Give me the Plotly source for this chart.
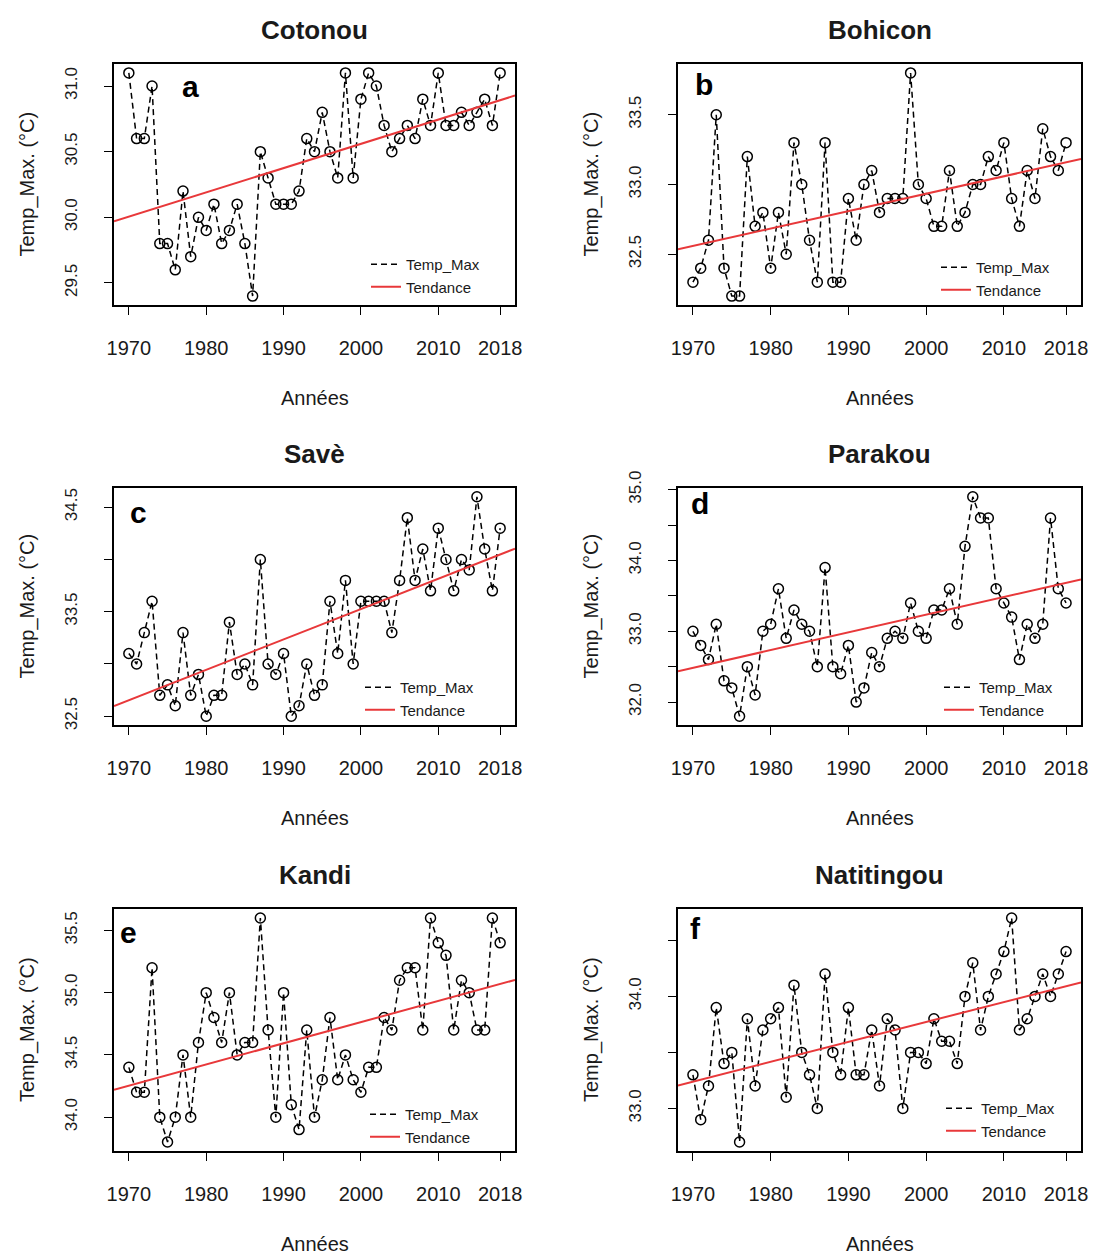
import numpy as np
import plotly.graph_objects as go

# ---------------- data ----------------
years = list(range(1970, 2019))
stations = ["Cotonou", "Bohicon", "Savè", "Parakou", "Kandi", "Natitingou"]
letters = ["a", "b", "c", "d", "e", "f"]

cotonou = [31.1, 30.6, 30.6, 31.0, 29.8, 29.8, 29.6, 30.2, 29.7, 30.0,
           29.9, 30.1, 29.8, 29.9, 30.1, 29.8, 29.4, 30.5, 30.3, 30.1,
           30.1, 30.1, 30.2, 30.6, 30.5, 30.8, 30.5, 30.3, 31.1, 30.3,
           30.9, 31.1, 31.0, 30.7, 30.5, 30.6, 30.7, 30.6, 30.9, 30.7,
           31.1, 30.7, 30.7, 30.8, 30.7, 30.8, 30.9, 30.7, 31.1]
bohicon = [32.3, 32.4, 32.6, 33.5, 32.4, 32.2, 32.2, 33.2, 32.7, 32.8,
           32.4, 32.8, 32.5, 33.3, 33.0, 32.6, 32.3, 33.3, 32.3, 32.3,
           32.9, 32.6, 33.0, 33.1, 32.8, 32.9, 32.9, 32.9, 33.8, 33.0,
           32.9, 32.7, 32.7, 33.1, 32.7, 32.8, 33.0, 33.0, 33.2, 33.1,
           33.3, 32.9, 32.7, 33.1, 32.9, 33.4, 33.2, 33.1, 33.3]
save = [33.1, 33.0, 33.3, 33.6, 32.7, 32.8, 32.6, 33.3, 32.7, 32.9,
        32.5, 32.7, 32.7, 33.4, 32.9, 33.0, 32.8, 34.0, 33.0, 32.9,
        33.1, 32.5, 32.6, 33.0, 32.7, 32.8, 33.6, 33.1, 33.8, 33.0,
        33.6, 33.6, 33.6, 33.6, 33.3, 33.8, 34.4, 33.8, 34.1, 33.7,
        34.3, 34.0, 33.7, 34.0, 33.9, 34.6, 34.1, 33.7, 34.3]
parakou = [33.0, 32.8, 32.6, 33.1, 32.3, 32.2, 31.8, 32.5, 32.1, 33.0,
           33.1, 33.6, 32.9, 33.3, 33.1, 33.0, 32.5, 33.9, 32.5, 32.4,
           32.8, 32.0, 32.2, 32.7, 32.5, 32.9, 33.0, 32.9, 33.4, 33.0,
           32.9, 33.3, 33.3, 33.6, 33.1, 34.2, 34.9, 34.6, 34.6, 33.6,
           33.4, 33.2, 32.6, 33.1, 32.9, 33.1, 34.6, 33.6, 33.4]
kandi = [34.4, 34.2, 34.2, 35.2, 34.0, 33.8, 34.0, 34.5, 34.0, 34.6,
         35.0, 34.8, 34.6, 35.0, 34.5, 34.6, 34.6, 35.6, 34.7, 34.0,
         35.0, 34.1, 33.9, 34.7, 34.0, 34.3, 34.8, 34.3, 34.5, 34.3,
         34.2, 34.4, 34.4, 34.8, 34.7, 35.1, 35.2, 35.2, 34.7, 35.6,
         35.4, 35.3, 34.7, 35.1, 35.0, 34.7, 34.7, 35.6, 35.4]
natitingou = [33.3, 32.9, 33.2, 33.9, 33.4, 33.5, 32.7, 33.8, 33.2, 33.7,
              33.8, 33.9, 33.1, 34.1, 33.5, 33.3, 33.0, 34.2, 33.5, 33.3,
              33.9, 33.3, 33.3, 33.7, 33.2, 33.8, 33.7, 33.0, 33.5, 33.5,
              33.4, 33.8, 33.6, 33.6, 33.4, 34.0, 34.3, 33.7, 34.0, 34.2,
              34.4, 34.7, 33.7, 33.8, 34.0, 34.2, 34.0, 34.2, 34.4]
series = [cotonou, bohicon, save, parakou, kandi, natitingou]

x_tickvals = [1970, 1980, 1990, 2000, 2010, 2018]
x_ticktext = ["1970", "1980", "1990", "2000", "2010", "2018"]

y_tickvals = [
    [29.5, 30.0, 30.5, 31.0],
    [32.5, 33.0, 33.5],
    [32.5, 33.0, 33.5, 34.0, 34.5],
    [32.0, 32.5, 33.0, 33.5, 34.0, 34.5, 35.0],
    [34.0, 34.5, 35.0, 35.5],
    [33.0, 33.5, 34.0, 34.5],
]
y_ticktext = [
    ["29.5", "30.0", "30.5", "31.0"],
    ["32.5", "33.0", "33.5"],
    ["32.5", "", "33.5", "", "34.5"],
    ["32.0", "", "33.0", "", "34.0", "", "35.0"],
    ["34.0", "34.5", "35.0", "35.5"],
    ["33.0", "", "34.0", ""],
]

# ---------------- layout geometry (pixels) ----------------
W, H = 1095, 1254
col_x = [(114, 515), (678, 1081)]
row_y = [(64, 305), (488, 725), (909, 1151)]
letter_pos = [(190, 87), (704, 84), (138, 512), (700, 503), (128, 932), (695, 928)]
legend_pos = [(366, 248), (936, 251), (360, 671), (939, 671), (365, 1098), (941, 1092)]

FONT = "Liberation Sans, Arial, sans-serif"
TXT = "#1a1a1a"


def px(x):
    return x / W


def py(y):
    return 1 - y / H


fig = go.Figure()
annotations = []
layout_axes = {}

for i in range(6):
    r, c = divmod(i, 2)
    n = i + 1
    sfx = "" if n == 1 else str(n)
    x0, x1 = col_x[c]
    yt, yb = row_y[r]
    vals = np.array(series[i])
    yrs = np.array(years)

    # R-style 4% padding
    xr = yrs.max() - yrs.min()
    xrange = [yrs.min() - 0.04 * xr, yrs.max() + 0.04 * xr]
    vr = vals.max() - vals.min()
    yrange = [vals.min() - 0.04 * vr, vals.max() + 0.04 * vr]

    legend_name = "legend" if n == 1 else f"legend{n}"

    # data: dashed line + open circles
    fig.add_trace(go.Scatter(
        x=years, y=series[i], mode="lines", name="Temp_Max",
        line=dict(color="black", width=1.5, dash="6px,4px"),
        xaxis=f"x{sfx}", yaxis=f"y{sfx}", legend=legend_name, showlegend=True))
    fig.add_trace(go.Scatter(
        x=years, y=series[i], mode="markers", showlegend=False,
        marker=dict(symbol="circle-open", size=10, color="black", line=dict(width=1.5)),
        xaxis=f"x{sfx}", yaxis=f"y{sfx}"))

    # linear trend across full plot width
    slope, intercept = np.polyfit(yrs, vals, 1)
    tx = np.array(xrange)
    fig.add_trace(go.Scatter(
        x=tx, y=slope * tx + intercept, mode="lines", name="Tendance",
        line=dict(color="#e8383a", width=2),
        xaxis=f"x{sfx}", yaxis=f"y{sfx}", legend=legend_name, showlegend=True))

    layout_axes[f"xaxis{sfx}"] = dict(
        domain=[px(x0), px(x1)], anchor=f"y{sfx}", range=xrange,
        tickvals=x_tickvals, ticktext=x_ticktext,
        ticks="outside", ticklen=8, tickwidth=1.3, tickcolor="black",
        showline=True, mirror=True, linecolor="black", linewidth=1.5,
        showgrid=False, zeroline=False, ticklabelstandoff=16, automargin=False,
        tickfont=dict(family=FONT, size=20, color=TXT))
    layout_axes[f"yaxis{sfx}"] = dict(
        domain=[py(yb), py(yt)], anchor=f"x{sfx}", range=yrange,
        tickvals=y_tickvals[i], ticktext=y_ticktext[i], tickangle=-90,
        ticks="outside", ticklen=8, tickwidth=1.3, tickcolor="black",
        showline=True, mirror=True, linecolor="black", linewidth=1.5,
        showgrid=False, zeroline=False, ticklabelstandoff=20, automargin=False,
        tickfont=dict(family=FONT, size=17, color=TXT))

    lx, ly = legend_pos[i]
    layout_axes[legend_name] = dict(
        x=px(lx), y=py(ly), xanchor="left", yanchor="top",
        bgcolor="rgba(255,255,255,0)", borderwidth=0,
        font=dict(family=FONT, size=15, color=TXT), tracegroupgap=0)

    cx = (x0 + x1) / 2
    # station title
    annotations.append(dict(
        text=f"<b>{stations[i]}</b>", x=px(cx), y=py(yt - 34), xref="paper", yref="paper",
        showarrow=False, xanchor="center", yanchor="middle",
        font=dict(family=FONT, size=26, color=TXT)))
    # x title
    annotations.append(dict(
        text="Années", x=px(cx), y=py(yb + 93), xref="paper", yref="paper",
        showarrow=False, xanchor="center", yanchor="middle",
        font=dict(family=FONT, size=20, color=TXT)))
    # y title
    annotations.append(dict(
        text="Temp_Max. (°C)", x=px(x0 - 87), y=py((yt + yb) / 2), xref="paper", yref="paper",
        showarrow=False, xanchor="center", yanchor="middle", textangle=-90,
        font=dict(family=FONT, size=20, color=TXT)))
    # panel letter
    lpx, lpy = letter_pos[i]
    annotations.append(dict(
        text=f"<b>{letters[i]}</b>", x=px(lpx), y=py(lpy), xref="paper", yref="paper",
        showarrow=False, xanchor="center", yanchor="middle",
        font=dict(family=FONT, size=30, color="black")))

fig.update_layout(
    width=W, height=H, margin=dict(l=0, r=0, t=0, b=0, autoexpand=False),
    paper_bgcolor="white", plot_bgcolor="white",
    annotations=annotations, **layout_axes)

fig.write_html(
    "out.html",
    post_script="document.body.style.margin='0';document.body.style.overflow='hidden';")
